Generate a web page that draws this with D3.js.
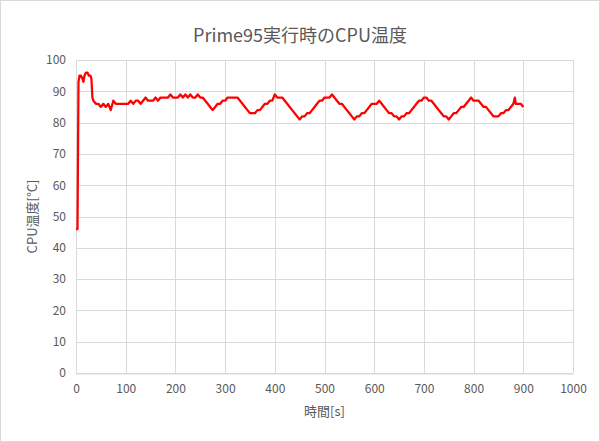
<!DOCTYPE html>
<html>
<head>
<meta charset="utf-8">
<script src="https://cdn.jsdelivr.net/npm/d3@7/dist/d3.min.js"></script>
<style>
  html, body { margin: 0; padding: 0; background: #fff; }
  svg { display: block; }
  text { font-family: "Noto Sans CJK JP", "Noto Sans", sans-serif; fill: #595959; }
</style>
</head>
<body>
<svg id="chart" width="600" height="442"></svg>
<script>
const titleText = "Prime95実行時のCPU温度";
const xAxisTitle = "時間[s]";
const yAxisTitle = "CPU温度[°C]";
const xTicks = [0, 100, 200, 300, 400, 500, 600, 700, 800, 900, 1000];
const yTicks = [0, 10, 20, 30, 40, 50, 60, 70, 80, 90, 100];

const times = [0, 3, 5, 7, 10, 13, 15, 17, 20, 23, 26, 29, 31, 33, 35,
  40, 45, 50, 55, 60, 65, 70, 75, 80, 85, 90, 95, 100, 105, 110, 115, 120, 125, 130, 135, 140, 145,
  150, 155, 160, 165, 170, 175, 180, 185, 190, 195, 200, 205, 210, 215, 220, 225, 230, 235, 240, 245,
  250, 255, 260, 265, 270, 275, 280, 285, 290, 295, 300, 305, 310, 315, 320, 325, 330, 335, 340, 345,
  350, 355, 360, 365, 370, 375, 380, 385, 390, 395, 400, 405, 410, 415, 420, 425, 430, 435, 440, 445,
  450, 455, 460, 465, 470, 475, 480, 485, 490, 495, 500, 505, 510, 515, 520, 525, 530, 535, 540, 545,
  550, 555, 560, 565, 570, 575, 580, 585, 590, 595, 600, 605, 610, 615, 620, 625, 630, 635, 640, 645,
  650, 655, 660, 665, 670, 675, 680, 685, 690, 695, 700, 705, 710, 715, 720, 725, 730, 735, 740, 745,
  750, 755, 760, 765, 770, 775, 780, 785, 790, 795, 800, 805, 810, 815, 820, 825, 830, 835, 840, 845,
  850, 855, 860, 865, 870, 875, 880, 883, 885, 890, 895, 900];

const temps = [46, 46, 93, 95, 95, 94, 93, 95, 96, 96, 95, 95, 94, 88, 87,
  86, 86, 85, 86, 85, 86, 84, 87, 86, 86, 86, 86, 86, 86, 87, 86, 87, 87, 86, 87, 88, 87,
  87, 87, 88, 87, 88, 88, 88, 88, 89, 88, 88, 88, 89, 88, 89, 88, 89, 88, 88, 89,
  88, 88, 87, 86, 85, 84, 85, 86, 86, 87, 87, 88, 88, 88, 88, 88, 87, 86, 85, 84,
  83, 83, 83, 84, 84, 85, 86, 86, 87, 87, 89, 88, 88, 88, 87, 86, 85, 84, 83, 82,
  81, 82, 82, 83, 83, 84, 85, 86, 87, 87, 88, 88, 88, 89, 88, 87, 86, 86, 85, 84,
  83, 82, 81, 82, 82, 83, 83, 84, 85, 86, 86, 86, 87, 86, 85, 84, 83, 83, 82, 82,
  81, 82, 82, 83, 83, 84, 85, 86, 87, 87, 88, 88, 87, 87, 86, 85, 84, 83, 82, 82,
  81, 82, 83, 83, 84, 85, 85, 86, 87, 88, 87, 87, 87, 86, 85, 85, 84, 83, 82, 82,
  82, 83, 83, 84, 84, 85, 86, 88, 86, 86, 86, 85];

const data = times.map((t, i) => ({ t, v: temps[i] }));

const svg = d3.select("#chart");
const W = 600, H = 442;
const m = { left: 76, right: 27, top: 60, bottom: 69 };

svg.append("rect").attr("x", 0.5).attr("y", 0.5).attr("width", W - 1).attr("height", H - 1)
  .attr("fill", "#fff").attr("stroke", "#d9d9d9");

const x = d3.scaleLinear().domain([0, 1000]).range([m.left, W - m.right]);
const y = d3.scaleLinear().domain([0, 100]).range([H - m.bottom, m.top]);

// gridlines
const g = svg.append("g");
g.selectAll("line.h").data(yTicks).join("line")
  .attr("x1", m.left).attr("x2", W - m.right)
  .attr("y1", d => Math.round(y(d)) + 0.5).attr("y2", d => Math.round(y(d)) + 0.5)
  .attr("stroke", "#d9d9d9").attr("stroke-width", 1);
g.selectAll("line.v").data(xTicks).join("line")
  .attr("y1", m.top).attr("y2", H - m.bottom)
  .attr("x1", d => Math.round(x(d)) + 0.5).attr("x2", d => Math.round(x(d)) + 0.5)
  .attr("stroke", "#d9d9d9").attr("stroke-width", 1);

// axes
const xAxis = d3.axisBottom(x).tickValues(xTicks).tickFormat(d3.format("d")).tickSize(0).tickPadding(11);
const gx = svg.append("g").attr("transform", `translate(0,${Math.round(y(0)) + 0.5})`).call(xAxis);
gx.select(".domain").attr("stroke", "#d9d9d9");
gx.selectAll("text").style("font-size", "12px").attr("fill", "#595959");

const yAxis = d3.axisLeft(y).tickValues(yTicks).tickFormat(d3.format("d")).tickSize(0).tickPadding(10);
const gy = svg.append("g").attr("transform", `translate(${m.left},0)`).call(yAxis);
gy.select(".domain").remove();
gy.selectAll("text").style("font-size", "12px").attr("fill", "#595959");

// line
const line = d3.line().x(d => x(d.t)).y(d => y(d.v));
svg.append("path").datum(data).attr("d", line)
  .attr("fill", "none").attr("stroke", "#ff0000").attr("stroke-width", 2.25)
  .attr("stroke-linejoin", "round");

// titles
svg.append("text").attr("x", 300).attr("y", 42).attr("text-anchor", "middle")
  .style("font-size", "18px").text(titleText);
svg.append("text").attr("x", (m.left + W - m.right) / 2).attr("y", 416).attr("text-anchor", "middle")
  .style("font-size", "13px").text(xAxisTitle);
svg.append("text").attr("transform", `translate(37,${(m.top + H - m.bottom) / 2}) rotate(-90)`)
  .attr("text-anchor", "middle").style("font-size", "13px").text(yAxisTitle);
</script>
</body>
</html>
